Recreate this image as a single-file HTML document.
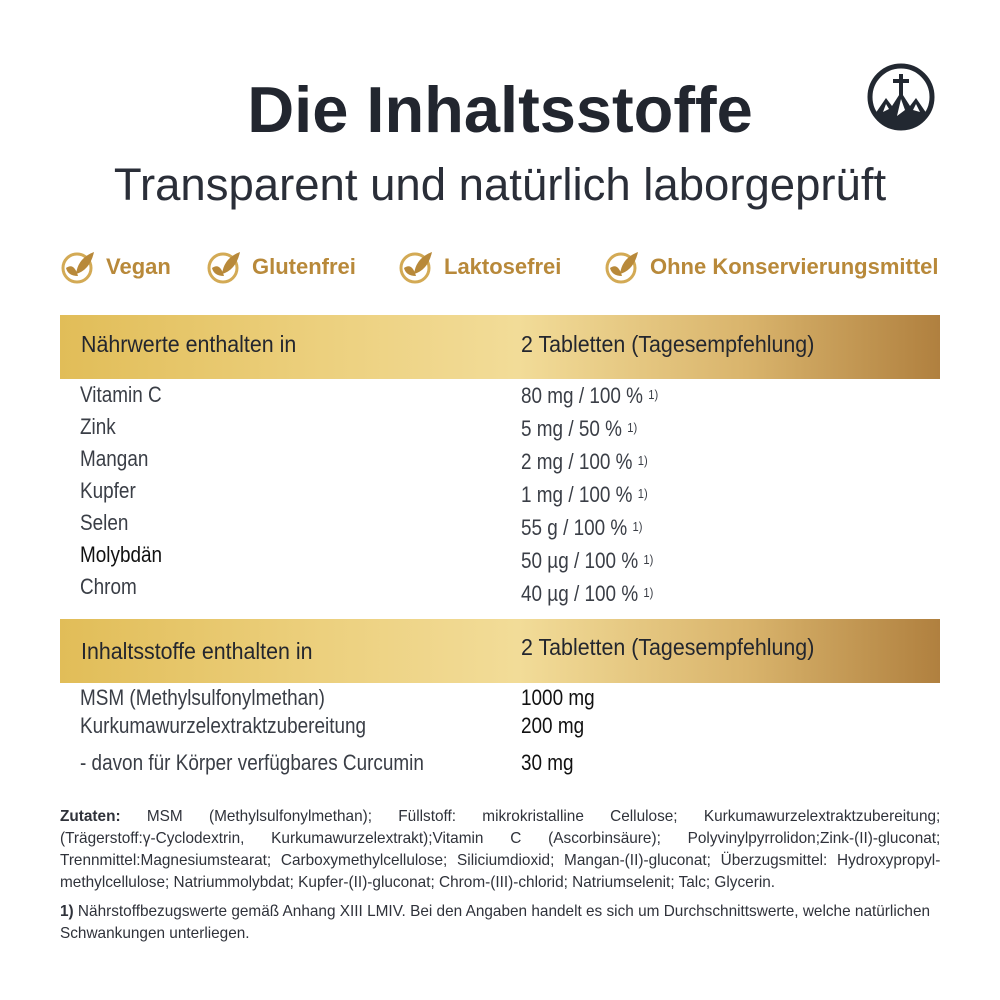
<!DOCTYPE html>
<html><head><meta charset="utf-8"><style>
*{margin:0;padding:0;box-sizing:border-box}
body{width:1000px;height:1000px;background:#fff;position:relative;overflow:hidden;font-family:"Liberation Sans",sans-serif;color:#2a2e38}
.a{position:absolute;white-space:nowrap}
.n{transform:scaleX(0.86);transform-origin:left center}
.hn{transform:scaleX(0.93);transform-origin:left center}
.bar{position:absolute;left:60px;width:880px;height:64px;background:linear-gradient(90deg,#e1bd58 0%,#ecd07e 30%,#f2dc98 52%,#d9b46c 78%,#b0803f 100%)}
.h{font-size:23px;color:#23262e}
.r{font-size:22px;color:#3a3e46;line-height:32px}
.s{font-size:13px;vertical-align:4px}
.z{position:absolute;left:60px;width:917px;font-size:16px;text-align:justify;text-align-last:justify;transform:scaleX(0.96);transform-origin:left top;white-space:nowrap;color:#2f323a}
.tag{position:absolute;top:250px;font-size:22px;font-weight:bold;color:#b8893a;display:flex;align-items:center}
.tag svg{margin-right:10px}
</style></head><body>
<div class="a" style="left:0;width:1000px;text-align:center;top:72px;font-size:65px;font-weight:bold;color:#22262f">Die Inhaltsstoffe</div>
<div class="a" style="left:0;width:1000px;text-align:center;top:159px;font-size:45.5px;color:#2a2e38">Transparent und natürlich laborgeprüft</div>
<svg class="a" style="left:866px;top:62px" width="70" height="70" viewBox="0 0 70 70">
<circle cx="35" cy="35" r="31" fill="#fff" stroke="#222831" stroke-width="5"/>
<path d="M9 52 L20 36 L26 44 L35 30 L44 44 L50 36 L61 52 A31 31 0 0 1 9 52Z" fill="#222831"/>
<path d="M20 42 L17 50 L23 47Z M35 37 L31 54 L39 48Z M50 42 L47 48 L54 50Z" fill="#fff"/>
<rect x="33" y="12" width="4" height="22" fill="#222831"/><rect x="27" y="17" width="16" height="4" fill="#222831"/>
</svg>
<div class="tag" style="left:60px"><svg width="36" height="34" viewBox="0 0 36 34"><circle cx="17" cy="18" r="14" fill="none" stroke="#d3aa55" stroke-width="3"/><path d="M6 18 Q14 12 18 26 Q8 26 6 18Z M16 24 Q18 8 34 2 Q30 20 16 24Z" fill="#b8893a"/></svg><span>Vegan</span></div>
<div class="tag" style="left:206px"><svg width="36" height="34" viewBox="0 0 36 34"><circle cx="17" cy="18" r="14" fill="none" stroke="#d3aa55" stroke-width="3"/><path d="M6 18 Q14 12 18 26 Q8 26 6 18Z M16 24 Q18 8 34 2 Q30 20 16 24Z" fill="#b8893a"/></svg><span>Glutenfrei</span></div>
<div class="tag" style="left:398px"><svg width="36" height="34" viewBox="0 0 36 34"><circle cx="17" cy="18" r="14" fill="none" stroke="#d3aa55" stroke-width="3"/><path d="M6 18 Q14 12 18 26 Q8 26 6 18Z M16 24 Q18 8 34 2 Q30 20 16 24Z" fill="#b8893a"/></svg><span>Laktosefrei</span></div>
<div class="tag" style="left:604px"><svg width="36" height="34" viewBox="0 0 36 34"><circle cx="17" cy="18" r="14" fill="none" stroke="#d3aa55" stroke-width="3"/><path d="M6 18 Q14 12 18 26 Q8 26 6 18Z M16 24 Q18 8 34 2 Q30 20 16 24Z" fill="#b8893a"/></svg><span>Ohne Konservierungsmittel</span></div>

<div class="bar" style="top:315px"></div>
<div class="a hn h" style="left:81px;top:331px">Nährwerte enthalten in</div>
<div class="a hn h" style="left:521px;top:331px">2 Tabletten (Tagesempfehlung)</div>
<div class="a n r" style="left:80px;top:379px">Vitamin C<br>Zink<br>Mangan<br>Kupfer<br>Selen<br><span style="color:#111">Molybdän</span><br>Chrom</div>
<div class="a n r" style="left:521px;top:379px">80 mg / 100 % <span class="s">1)</span><br>5 mg / 50 % <span class="s">1)</span><br>2 mg / 100 % <span class="s">1)</span><br>1 mg / 100 % <span class="s">1)</span><br>55 g / 100 % <span class="s">1)</span><br>50 µg / 100 % <span class="s">1)</span><br>40 µg / 100 % <span class="s">1)</span></div>

<div class="bar" style="top:619px"></div>
<div class="a hn h" style="left:81px;top:638px">Inhaltsstoffe enthalten in</div>
<div class="a hn h" style="left:521px;top:634px">2 Tabletten (Tagesempfehlung)</div>
<div class="a n r" style="left:80px;top:682px">MSM (Methylsulfonylmethan)</div>
<div class="a n r" style="left:80px;top:710px">Kurkumawurzelextraktzubereitung</div>
<div class="a n r" style="left:80px;top:747px">- davon für Körper verfügbares Curcumin</div>
<div class="a n r" style="left:521px;top:682px;color:#111">1000 mg</div>
<div class="a n r" style="left:521px;top:710px;color:#111">200 mg</div>
<div class="a n r" style="left:521px;top:747px;color:#111">30 mg</div>

<div class="z" style="top:808px"><b>Zutaten:</b> MSM (Methylsulfonylmethan); Füllstoff: mikrokristalline Cellulose; Kurkumawurzelextraktzubereitung;</div>
<div class="z" style="top:830px">(Trägerstoff:γ-Cyclodextrin, Kurkumawurzelextrakt);Vitamin C (Ascorbinsäure); Polyvinylpyrrolidon;Zink-(II)-gluconat;</div>
<div class="z" style="top:852px">Trennmittel:Magnesiumstearat; Carboxymethylcellulose; Siliciumdioxid; Mangan-(II)-gluconat; Überzugsmittel: Hydroxypropyl-</div>
<div class="z" style="top:874px;text-align-last:left;text-align:left">methylcellulose; Natriummolybdat; Kupfer-(II)-gluconat; Chrom-(III)-chlorid; Natriumselenit; Talc; Glycerin.</div>
<div class="z" style="top:903px;text-align-last:left;text-align:left"><b>1)</b> Nährstoffbezugswerte gemäß Anhang XIII LMIV. Bei den Angaben handelt es sich um Durchschnittswerte, welche natürlichen</div>
<div class="z" style="top:925px;text-align-last:left;text-align:left">Schwankungen unterliegen.</div>
</body></html>
